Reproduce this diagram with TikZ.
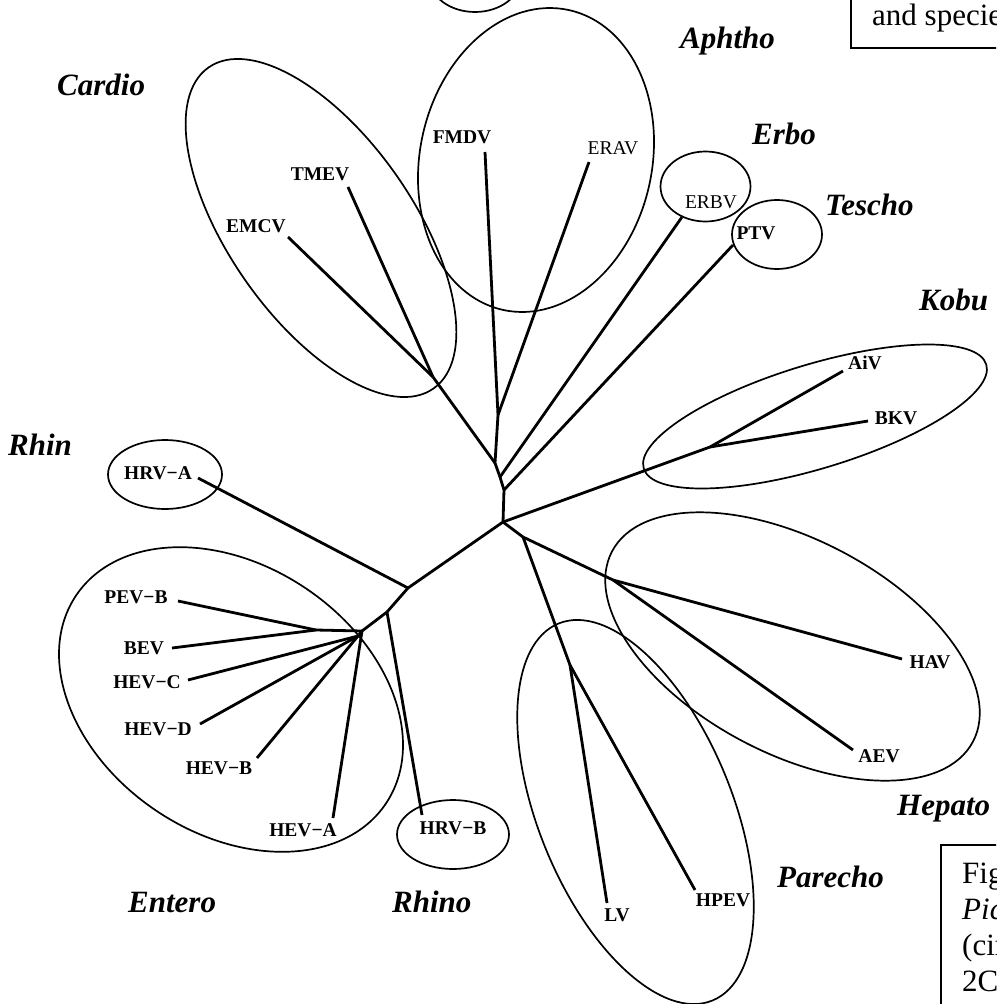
\documentclass[tikz,border=0pt]{standalone}
\usepackage{fontspec}
\setmainfont{Liberation Serif}
\newcommand{\leaffont}{\fontsize{19.5}{21}\selectfont\bfseries}
\newcommand{\leaflight}{\fontsize{19.5}{21}\selectfont}
\newcommand{\famfont}{\fontsize{31}{36}\selectfont\bfseries\itshape}
\newcommand{\capfont}{\fontsize{31}{36}\selectfont}
\begin{document}
\begin{tikzpicture}[x=1pt,y=-1pt,
  tree/.style={line width=2.8pt,line join=round},
  grp/.style={line width=1.7pt},
  boxline/.style={line width=1.6pt},
  leaf/.style={font=\leaffont,inner sep=0pt},
  leaflt/.style={font=\leaflight,inner sep=0pt},
  fam/.style={font=\famfont,inner sep=0pt,anchor=base west},
  capline/.style={font=\capfont,inner sep=0pt,anchor=base west}]
\useasboundingbox (0,0) rectangle (996,1004);
\clip (0,0) rectangle (996,1004);
\fill[white] (0,0) rectangle (996,1004);

% group ellipses
\draw[grp] (475,-23) ellipse (46pt and 35pt);
\draw[grp,rotate around={-55:(321,228)}] (321,228) ellipse (196pt and 92pt);
\draw[grp,rotate around={77.6:(536,160)}] (536,160) ellipse (153.5pt and 116pt);
\draw[grp] (705.5,186.5) ellipse (45pt and 35pt);
\draw[grp] (777,234.5) ellipse (45pt and 34.5pt);
\draw[grp,rotate around={16.9:(815,416.5)}] (815,416.5) ellipse (179pt and 52pt);
\draw[grp,rotate around={-27.8:(792.5,646.5)}] (792.5,646.5) ellipse (204pt and 107pt);
\draw[grp,rotate around={-67.8:(635.5,812)}] (635.5,812) ellipse (203.6pt and 97pt);
\draw[grp,rotate around={-33.9:(231,699.5)}] (231,699.5) ellipse (186.6pt and 134pt);
\draw[grp] (165,474.5) ellipse (57pt and 34.5pt);
\draw[grp] (453,834.5) ellipse (56pt and 34.5pt);

% caption boxes (cut by the picture's edge, as in the reference)
\draw[boxline] (851,-10) rectangle (1010,48);
\node[capline] (capA) at (872,25) {and species};
\draw[boxline] (941,845) rectangle (1010,1020);
\node[capline] (capB) at (962,883) {Figure};
\node[capline] (capC) at (962,919) {\itshape Picornaviridae};
\node[capline] (capD) at (962,955) {(circles)};
\node[capline] (capE) at (962,991) {2C};

% internal tree points
\coordinate (R) at (503,522);
\coordinate (S1) at (504,490);
\coordinate (S2) at (500,477);
\coordinate (S3) at (495,463);
\coordinate (A) at (498,415);
\coordinate (C) at (433,377);
\coordinate (K) at (710,447);
\coordinate (X) at (523,537);
\coordinate (H) at (613,580);
\coordinate (P) at (570,665);
\coordinate (L1) at (408,588);
\coordinate (L2) at (387,612);
\coordinate (E) at (362,631);
\coordinate (E2) at (358,636);
\coordinate (J) at (316,630);

% leaf line ends
\coordinate (eFMDV) at (485,152);
\coordinate (eERAV) at (589,162);
\coordinate (eTMEV) at (348,187);
\coordinate (eEMCV) at (288,237);
\coordinate (eERBV) at (682,217);
\coordinate (ePTV) at (733,245);
\coordinate (eAiV) at (843,371);
\coordinate (eBKV) at (868,421);
\coordinate (eHAV) at (902,659);
\coordinate (eAEV) at (853,750);
\coordinate (eHPEV) at (695,890);
\coordinate (eLV) at (607,903);
\coordinate (eHRVB) at (422,815);
\coordinate (eHEVA) at (333,818);
\coordinate (eHEVB) at (257,758);
\coordinate (eHEVD) at (200,724);
\coordinate (eHEVC) at (188,680);
\coordinate (eBEV) at (172,648);
\coordinate (ePEVB) at (178,601);
\coordinate (eHRVA) at (198,478);

% tree edges
\draw[tree] (R) -- (S1) -- (S2) -- (S3) -- (A);
\draw[tree] (A) -- (eFMDV);
\draw[tree] (A) -- (eERAV);
\draw[tree] (S3) -- (C);
\draw[tree] (C) -- (eTMEV);
\draw[tree] (C) -- (eEMCV);
\draw[tree] (S2) -- (eERBV);
\draw[tree] (S1) -- (ePTV);
\draw[tree] (R) -- (K);
\draw[tree] (K) -- (eAiV);
\draw[tree] (K) -- (eBKV);
\draw[tree] (R) -- (X);
\draw[tree] (X) -- (H);
\draw[tree] (H) -- (eHAV);
\draw[tree] (H) -- (eAEV);
\draw[tree] (X) -- (P);
\draw[tree] (P) -- (eLV);
\draw[tree] (P) -- (eHPEV);
\draw[tree] (R) -- (L1);
\draw[tree] (L1) -- (eHRVA);
\draw[tree] (L1) -- (L2);
\draw[tree] (L2) -- (eHRVB);
\draw[tree] (L2) -- (E);
\draw[tree] (E) -- (J);
\draw[tree] (J) -- (ePEVB);
\draw[tree] (J) -- (eBEV);
\draw[tree] (E) -- (E2);
\draw[tree] (E2) -- (eHEVC);
\draw[tree] (E2) -- (eHEVD);
\draw[tree] (E2) -- (eHEVB);
\draw[tree] (E) -- (eHEVA);

% leaf labels
\node[leaf] (FMDV) at (462,137) {FMDV};
\node[leaf] (TMEV) at (320,174) {TMEV};
\node[leaf] (EMCV) at (256,226) {EMCV};
\node[leaflt] (ERAV) at (613,148) {ERAV};
\node[leaflt] (ERBV) at (711,202) {ERBV};
\node[leaf] (PTV) at (756,233) {PTV};
\node[leaf] (AiV) at (865,363) {AiV};
\node[leaf] (BKV) at (896,418) {BKV};
\node[leaf] (HAV) at (930,662) {HAV};
\node[leaf] (AEV) at (879,756) {AEV};
\node[leaf] (HPEV) at (723,900) {HPEV};
\node[leaf] (LV) at (617,915) {LV};
\node[leaf] (HRVB) at (453,828) {HRV−B};
\node[leaf] (HEVA) at (303,830) {HEV−A};
\node[leaf] (HEVB) at (219,768) {HEV−B};
\node[leaf] (HEVD) at (158,729) {HEV−D};
\node[leaf] (HEVC) at (147,682) {HEV−C};
\node[leaf] (BEV) at (144,648) {BEV};
\node[leaf] (PEVB) at (136,597) {PEV−B};
\node[leaf] (HRVA) at (158,473) {HRV−A};

% family labels
\node[fam] (Cardio) at (57,95) {Cardio};
\node[fam] (Aphtho) at (680,48) {Aphtho};
\node[fam] (Erbo) at (752,144) {Erbo};
\node[fam] (Tescho) at (825,215) {Tescho};
\node[fam] (Kobu) at (919,310) {Kobu};
\node[fam] (Rhin) at (8,455) {Rhin};
\node[fam] (Entero) at (128,912) {Entero};
\node[fam] (Rhino) at (392,912) {Rhino};
\node[fam] (Parecho) at (777,887) {Parecho};
\node[fam] (Hepato) at (897,815) {Hepato};
\end{tikzpicture}
\end{document}
